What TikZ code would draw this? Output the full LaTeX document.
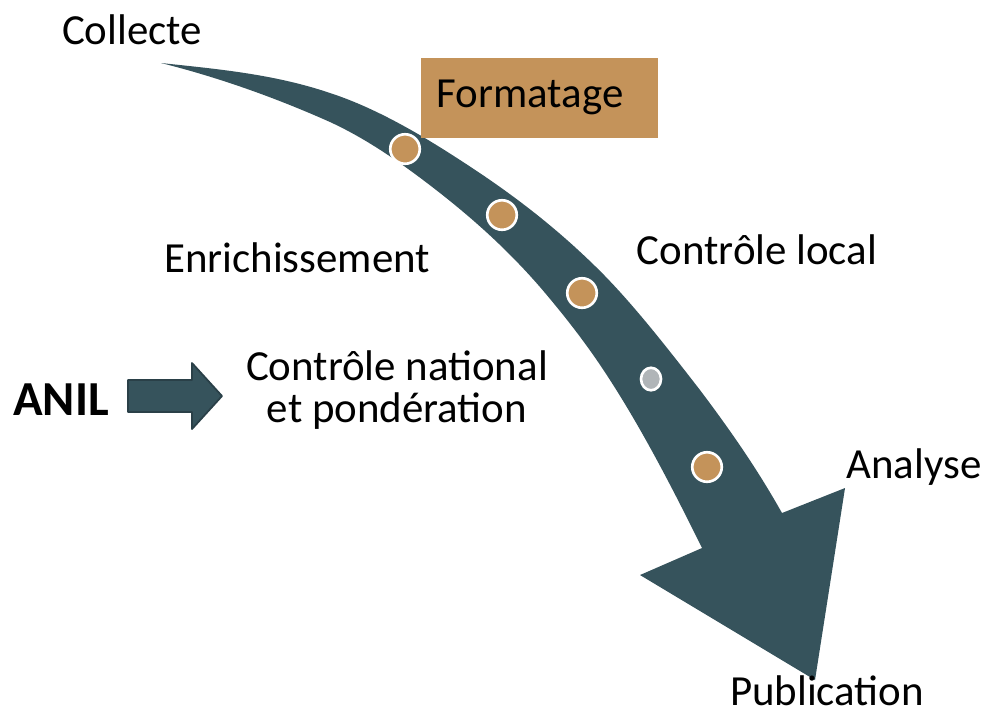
\documentclass[tikz,border=0pt]{standalone}
\usepackage{fontspec}
\setmainfont{Carlito}
\usetikzlibrary{shapes.geometric}
\definecolor{bandcol}{HTML}{36535C}
\definecolor{edgecol}{HTML}{2A4048}
\definecolor{tancol}{HTML}{C4935A}
\definecolor{greycol}{HTML}{B0B5B8}
\begin{document}
\begin{tikzpicture}[x=0.01cm,y=-0.01cm,line join=round,
	font=\fontsize{12.2}{12.2}\selectfont,
	dot/.style={circle,fill=tancol,draw=white,line width=0.75pt,minimum size=0.295cm,inner sep=0pt},
	greydot/.style={ellipse,fill=greycol,draw=white,line width=0.75pt,minimum width=0.2cm,minimum height=0.225cm,inner sep=0pt}]
	\useasboundingbox (0,0) rectangle (989,714);
	% curved arrow
	\fill[bandcol] (161,63) .. controls (217,69) and (274,74) .. (330,93)
	.. controls (373,107) and (417,132) .. (460,160)
	.. controls (505,189) and (550,222) .. (595,266)
	.. controls (630,300) and (665,345) .. (700,390)
	.. controls (727,426) and (755,465) .. (782,513)
	-- (845,488) -- (815,680) -- (640,575) -- (702,548)
	.. controls (671,485) and (641,428) .. (610,380)
	.. controls (587,344) and (563,314) .. (540,287)
	.. controls (507,249) and (473,219) .. (440,193)
	.. controls (403,164) and (367,139) .. (330,122)
	.. controls (274,97) and (217,77) .. (161,63) -- cycle;
	% box
	\node[fill=tancol,anchor=north west,minimum width=2.37cm,minimum height=0.8cm,inner sep=0pt,text width=2.05cm,align=left] (fmt) at (420,57) {Formatage};
	% dots
	\node[dot] (d1) at (405,149) {};
	\node[dot] (d2) at (502,215) {};
	\node[dot] (d3) at (582,293) {};
	\node[greydot] (d4) at (651,379) {};
	\node[dot] (d5) at (707,467) {};
	% ANIL arrow
	\filldraw[fill=bandcol,draw=edgecol,line width=0.5pt] (128,380) -- (192,380) -- (192,363) -- (222,396) -- (192,429) -- (192,412) -- (128,412) -- cycle;
	% labels
	\node (collecte) at (132,30) {Collecte};
	\node (enrich) at (297,258) {Enrichissement};
	\node (ctrlloc) at (757,250) {Contrôle local};
	\node[align=center] (ctrlnat) at (397,390) {Contrôle national\\et pondération};
	\node[font=\fontsize{13.9}{15}\selectfont\bfseries] (anil) at (61,400) {ANIL};
	\node (analyse) at (914,467) {Analyse};
	\node (publi) at (827,691) {Publication};
\end{tikzpicture}
\end{document}
